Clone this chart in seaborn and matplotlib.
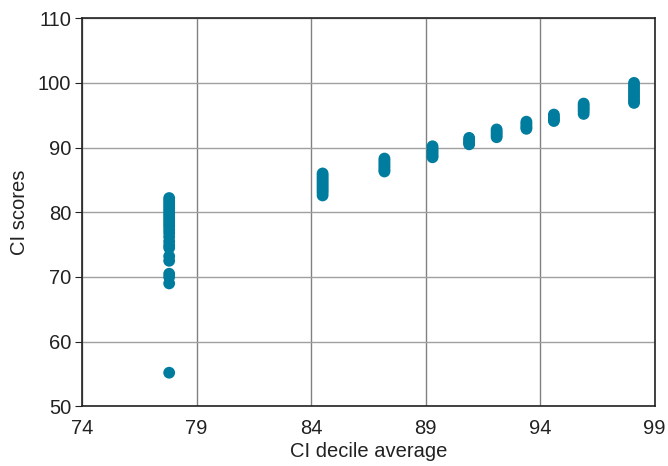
import pandas as pd
import matplotlib.pyplot as plt
import seaborn as sns

# decile average (x) and the CI scores observed at each decile
decile_avg = [77.8, 84.5, 87.2, 89.3, 90.9, 92.1, 93.4, 94.6, 95.9, 98.1]

scores_d1 = [82.2, 81.8, 81.4, 81.0, 80.6, 80.2, 79.8, 79.4, 79.0, 78.6, 78.2,
             77.8, 77.3, 76.8, 76.2, 75.5, 74.9, 74.5, 73.2, 72.5, 70.5, 70.0,
             69.0, 55.2]
scores_d2 = [86.0, 85.7, 85.4, 85.1, 84.8, 84.5, 84.2, 83.9, 83.6, 83.3, 83.0, 82.6]
scores_d3 = [88.3, 88.0, 87.7, 87.4, 87.1, 86.8, 86.5, 86.3]
scores_d4 = [90.2, 89.9, 89.6, 89.3, 89.0, 88.7, 88.5]
scores_d5 = [91.5, 91.2, 90.9, 90.7, 90.5]
scores_d6 = [92.8, 92.5, 92.2, 91.9, 91.6]
scores_d7 = [94.0, 93.7, 93.4, 93.1, 92.9]
scores_d8 = [95.1, 94.8, 94.5, 94.3, 94.1]
scores_d9 = [96.8, 96.5, 96.2, 95.9, 95.6, 95.2]
scores_d10 = [100.0, 99.6, 99.2, 98.8, 98.4, 98.0, 97.6, 97.2, 96.9]

groups = [scores_d1, scores_d2, scores_d3, scores_d4, scores_d5,
          scores_d6, scores_d7, scores_d8, scores_d9, scores_d10]

rows = []
for x, ys in zip(decile_avg, groups):
    for y in ys:
        rows.append({"decile": x, "score": y})
df = pd.DataFrame(rows)

sns.set_style("white")
plt.rcParams['font.family'] = ['Liberation Sans', 'DejaVu Sans']

fig = plt.figure(figsize=(6.68, 4.66), dpi=100)
ax = fig.add_axes([0.123, 0.128, 0.857, 0.833])

sns.scatterplot(data=df, x="decile", y="score", color="#007c9e", s=72,
                edgecolor="none", ax=ax, zorder=3)

ax.set_xlim(74, 99)
ax.set_ylim(50, 110)
ax.set_xticks(range(74, 100, 5))
ax.set_yticks(range(50, 111, 10))
ax.grid(True, axis="y", color="#a0a0a0", linewidth=1)
ax.grid(True, axis="x", color="#808080", linewidth=1)
ax.set_axisbelow(True)
for sp in ax.spines.values():
    sp.set_color("#222222")
    sp.set_linewidth(1.2)
ax.tick_params(axis="y", labelsize=14.5, length=5, color="#222222",
               direction="out", left=True, colors="#222222", pad=3)
ax.tick_params(axis="x", labelsize=14.5, length=0, colors="#222222", pad=9)
ax.set_xlabel("CI decile average", fontsize=14.5, color="#222222", labelpad=3)
ax.set_ylabel("CI scores", fontsize=14.5, color="#222222", labelpad=6)

fig.savefig("out.png", dpi=100)
